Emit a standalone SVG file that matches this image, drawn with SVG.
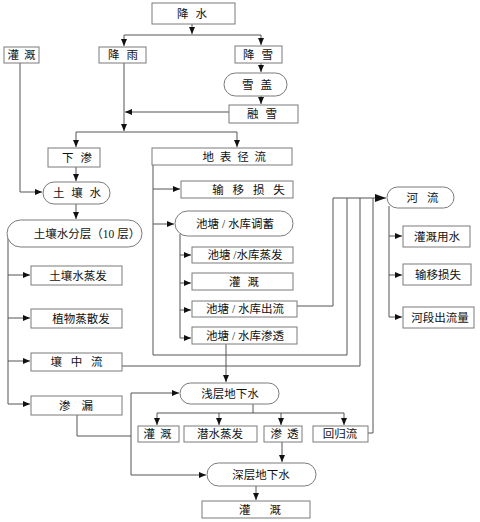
<svg xmlns="http://www.w3.org/2000/svg" width="480" height="522" viewBox="0 0 480 522">
<defs>
<style>
.b{fill:#fff;stroke:#7a7a7a;stroke-width:1}
.t{font-family:"Liberation Serif","Noto Sans CJK SC",serif;font-size:11.5px;fill:#111;text-anchor:middle}
.c path{fill:none;stroke:#555;stroke-width:1}
.a{marker-end:url(#ah)}
.A{marker-end:url(#AH)}
</style>
<marker id="ah" markerUnits="userSpaceOnUse" markerWidth="7" markerHeight="6" refX="7" refY="3" orient="auto"><path d="M0,0 L7,3 L0,6 z" fill="#111"/></marker>
<marker id="AH" markerUnits="userSpaceOnUse" markerWidth="11" markerHeight="8" refX="11" refY="4" orient="auto"><path d="M0,0 L11,4 L0,8 z" fill="#111"/></marker>
</defs>
<rect width="480" height="522" fill="#fff"/>
<g class="c" id="connectors">
<path class="a" d="M192,24 V34"/>
<path d="M124,35 H261"/>
<path class="a" d="M124,35 V46"/>
<path class="a" d="M261,35 V45"/>
<path class="a" d="M261,63 V72"/>
<path class="a" d="M261,96 V104"/>
<path class="a" d="M229,112 H125"/>
<path class="a" d="M124,63 V131"/>
<path d="M76,132 H237"/>
<path class="a" d="M76,132 V147"/>
<path class="a" d="M237,132 V147"/>
<path class="a" d="M76,167 V181"/>
<path class="a" d="M20,63 V192 H42"/>
<path class="a" d="M76,204 V219"/>
<path d="M8,238 V404"/>
<path class="a" d="M8,275 H30"/>
<path class="a" d="M8,318 H30"/>
<path class="a" d="M8,361 H30"/>
<path class="a" d="M8,404 H30"/>
<path d="M77,415 V436 H131"/>
<path d="M131,393 V475"/>
<path class="a" d="M131,393 H179"/>
<path class="a" d="M131,475 H206"/>
<path d="M153,165 V355 H347 V198"/>
<path class="a" d="M153,189 H180"/>
<path class="a" d="M153,224 H174"/>
<path d="M180,234 V338"/>
<path class="a" d="M180,255 H191"/>
<path class="a" d="M180,283 H191"/>
<path class="a" d="M180,310 H191"/>
<path class="a" d="M180,338 H191"/>
<path d="M297,306 H333 V198"/>
<path d="M122,366 H360 V198"/>
<path d="M368,433 H373 V198"/>
<path class="A" d="M333,198 H386"/>
<path class="a" d="M226,344 V382"/>
<path d="M253,404 V413"/>
<path d="M157,413 H344"/>
<path class="a" d="M157,413 V425"/>
<path class="a" d="M219,413 V425"/>
<path class="a" d="M281,413 V425"/>
<path class="a" d="M344,413 V425"/>
<path class="a" d="M282,442 V462"/>
<path class="a" d="M256,486 V500"/>
<path d="M389,206 V317"/>
<path class="a" d="M389,236 H402"/>
<path class="a" d="M389,275 H402"/>
<path class="a" d="M389,317 H402"/>
</g>
<g id="n_jiangshui"><rect class="b" x="152" y="3" width="83" height="21"/><text class="t" x="193" y="18" letter-spacing="2">降 水</text></g>
<g id="n_guangai_top"><rect class="b" x="4" y="47" width="35" height="16"/><text class="t" x="22" y="59" letter-spacing="1">灌 溉</text></g>
<g id="n_jiangyu"><rect class="b" x="99" y="47" width="47" height="16"/><text class="t" x="124" y="59" letter-spacing="2">降 雨</text></g>
<g id="n_jiangxue"><rect class="b" x="235" y="46" width="47" height="17"/><text class="t" x="259" y="59" letter-spacing="2">降 雪</text></g>
<g id="n_xuegai"><rect class="b" x="224" y="73" width="63" height="23" rx="11.5"/><text class="t" x="258" y="89" letter-spacing="2">雪 盖</text></g>
<g id="n_rongxue"><rect class="b" x="229" y="105" width="69" height="18"/><text class="t" x="263" y="118" letter-spacing="2">融 雪</text></g>
<g id="n_xiashen"><rect class="b" x="48" y="148" width="52" height="19"/><text class="t" x="78" y="162" letter-spacing="2">下 渗</text></g>
<g id="n_dibiao"><rect class="b" x="152" y="148" width="140" height="17"/><text class="t" x="235" y="161" letter-spacing="1.5">地 表 径 流</text></g>
<g id="n_turangshui"><rect class="b" x="43" y="182" width="67" height="22" rx="11"/><text class="t" x="78" y="197" letter-spacing="2">土 壤 水</text></g>
<g id="n_fenceng"><rect class="b" x="7" y="220" width="135" height="27" rx="13.5"/><text class="t" x="87" y="238">土壤水分层（10 层）</text></g>
<g id="n_shusun1"><rect class="b" x="181" y="181" width="112" height="17"/><text class="t" x="250" y="194" letter-spacing="3">输 移 损 失</text></g>
<g id="n_tiaoxu"><rect class="b" x="175" y="211" width="118" height="25" rx="12.5"/><text class="t" x="235" y="228">池塘 / 水库调蓄</text></g>
<g id="n_zhengfa"><rect class="b" x="192" y="247" width="101" height="16"/><text class="t" x="245" y="259">池塘 /水库蒸发</text></g>
<g id="n_guangai_mid"><rect class="b" x="192" y="273" width="101" height="17"/><text class="t" x="245" y="286" letter-spacing="2">灌 溉</text></g>
<g id="n_chuliu"><rect class="b" x="192" y="301" width="105" height="16"/><text class="t" x="245" y="313">池塘 / 水库出流</text></g>
<g id="n_shentou_pond"><rect class="b" x="192" y="327" width="105" height="17"/><text class="t" x="245" y="340">池塘 / 水库渗透</text></g>
<g id="n_tzhengfa"><rect class="b" x="31" y="266" width="91" height="19"/><text class="t" x="78" y="280">土壤水蒸发</text></g>
<g id="n_zhiwu"><rect class="b" x="31" y="309" width="91" height="19"/><text class="t" x="81" y="323">植物蒸散发</text></g>
<g id="n_rangzhongliu"><rect class="b" x="31" y="353" width="91" height="18"/><text class="t" x="78" y="366" letter-spacing="3">壤 中 流</text></g>
<g id="n_shenlou"><rect class="b" x="31" y="396" width="91" height="19"/><text class="t" x="78" y="410" letter-spacing="4">渗 漏</text></g>
<g id="n_qianceng"><rect class="b" x="180" y="383" width="99" height="21" rx="10.5"/><text class="t" x="230" y="398">浅层地下水</text></g>
<g id="n_guangai_low"><rect class="b" x="138" y="426" width="41" height="16"/><text class="t" x="158" y="438" letter-spacing="1">灌 溉</text></g>
<g id="n_qianshui"><rect class="b" x="184" y="426" width="73" height="16"/><text class="t" x="220" y="438">潜水蒸发</text></g>
<g id="n_shentou"><rect class="b" x="264" y="426" width="38" height="16"/><text class="t" x="285" y="438" letter-spacing="1">渗 透</text></g>
<g id="n_huigui"><rect class="b" x="313" y="426" width="55" height="16"/><text class="t" x="340" y="438">回归流</text></g>
<g id="n_shenceng"><rect class="b" x="207" y="463" width="109" height="23" rx="11.5"/><text class="t" x="261" y="479">深层地下水</text></g>
<g id="n_guangai_bottom"><rect class="b" x="202" y="501" width="108" height="17"/><text class="t" x="264" y="514" letter-spacing="8">灌 溉</text></g>
<g id="n_heliu"><rect class="b" x="387" y="187" width="67" height="21" rx="10.5"/><text class="t" x="424" y="202" letter-spacing="3">河 流</text></g>
<g id="n_guangaiyongshui"><rect class="b" x="403" y="226" width="67" height="21"/><text class="t" x="437" y="241">灌溉用水</text></g>
<g id="n_shusun2"><rect class="b" x="403" y="264" width="68" height="21"/><text class="t" x="438" y="279">输移损失</text></g>
<g id="n_heduan"><rect class="b" x="403" y="307" width="71" height="21"/><text class="t" x="440" y="322">河段出流量</text></g>
</svg>
